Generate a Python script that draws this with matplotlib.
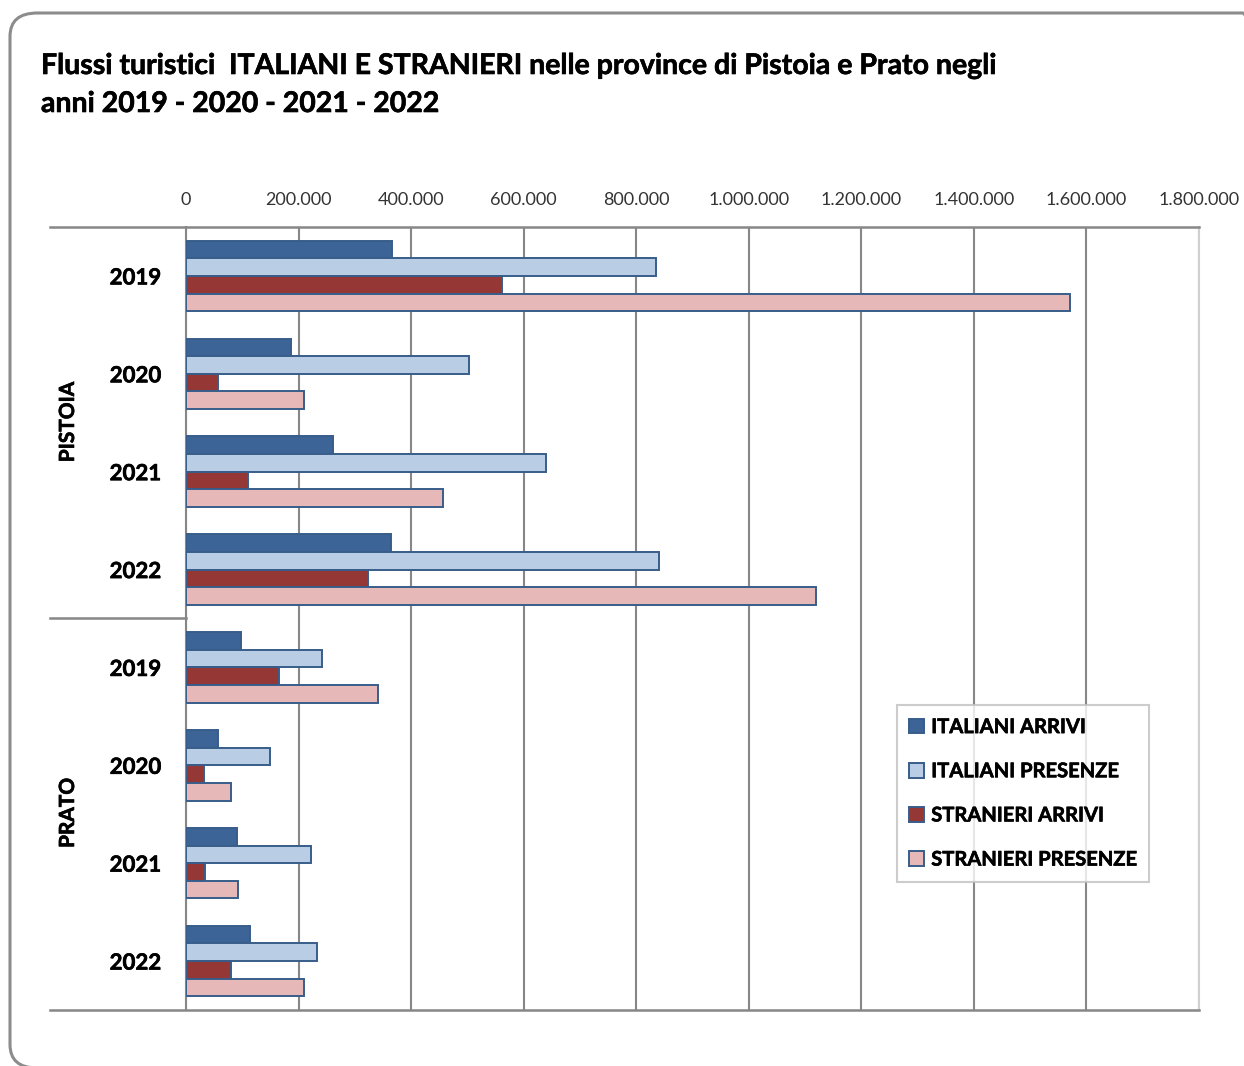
import matplotlib.pyplot as plt
import numpy as np
from matplotlib.patches import FancyBboxPatch
from matplotlib.lines import Line2D
from matplotlib.ticker import FuncFormatter
import matplotlib.patheffects as pe

plt.rcParams['font.family'] = ['Lato', 'DejaVu Sans']

anni = ['2019', '2020', '2021', '2022']
province = ['PISTOIA', 'PRATO']
serie = ['ITALIANI ARRIVI', 'ITALIANI PRESENZE', 'STRANIERI ARRIVI', 'STRANIERI PRESENZE']

# valori per provincia, anni 2019-2022 (Pistoia poi Prato)
italiani_arrivi = [366000, 187000, 262000, 364000, 97000, 56000, 90000, 114000]
italiani_presenze = [835000, 503000, 639000, 841000, 241000, 150000, 223000, 232000]
stranieri_arrivi = [561000, 57000, 110000, 324000, 165000, 32000, 34000, 80000]
stranieri_presenze = [1571000, 210000, 456000, 1120000, 342000, 80000, 93000, 209000]

colori = ['#3C6496', '#B9CDE5', '#953735', '#E6B9B8']
bordo = '#385D8A'
grigio = '#878787'

# rende il grassetto un po' più marcato
spesso = [pe.withStroke(linewidth=0.45, foreground='black')]

W, H = 1244, 1066
fig = plt.figure(figsize=(W / 100, H / 100), dpi=100)

def fx(px):
    return px / W

def fy(py):
    return 1 - py / H

# cornice arrotondata del grafico
cornice = FancyBboxPatch((fx(10), fy(1068)), fx(1270) - fx(10), fy(13) - fy(1068),
                         boxstyle='round,pad=0,rounding_size=0.022',
                         transform=fig.transFigure, facecolor='none',
                         edgecolor='#8C8C8C', linewidth=2.2, clip_on=False)
fig.patches.append(cornice)

ax = fig.add_axes([fx(186), fy(1010), fx(1199) - fx(186), fy(227) - fy(1010)])

dati = [italiani_arrivi, italiani_presenze, stranieri_arrivi, stranieri_presenze]
y = np.arange(len(anni) * len(province))
h = 0.18
for i, (vals, col, nome) in enumerate(zip(dati, colori, serie)):
    ax.barh(y + (i - 1.5) * h, vals, height=h, color=col, edgecolor=bordo,
            linewidth=1.4, label=nome, zorder=3)

ax.set_xlim(0, 1800000)
ax.set_ylim(len(y) - 0.5, -0.5)
ax.set_xticks(np.arange(0, 1800001, 200000))
ax.xaxis.set_major_formatter(FuncFormatter(lambda v, p: f'{int(v):,}'.replace(',', '.')))
ax.xaxis.tick_top()
ax.tick_params(axis='x', length=0, pad=14, labelsize=13, labelcolor='#333333')
ax.grid(axis='x', color=grigio, linewidth=1.5, zorder=0)

ax.set_yticks(y)
ax.set_yticklabels(anni * len(province), fontsize=16, fontweight='bold')
for t in ax.get_yticklabels():
    t.set_path_effects(spesso)
ax.tick_params(axis='y', length=0, pad=18)

for s in ['top', 'bottom']:
    ax.spines[s].set_visible(False)
ax.spines['left'].set_color(grigio)
ax.spines['left'].set_linewidth(1.5)
ax.spines['right'].set_color('#D0D0D0')
ax.spines['right'].set_linewidth(1.5)

# linee di separazione delle categorie
for yy in [227, 1010]:
    fig.add_artist(Line2D([fx(50), fx(1199)], [fy(yy), fy(yy)], color=grigio, lw=1.8))
fig.add_artist(Line2D([fx(50), fx(186)], [fy(618), fy(618)], color=grigio, lw=1.8))

for nome, yc in zip(province, [422, 813]):
    fig.text(fx(68), fy(yc), nome, rotation=90, ha='center', va='center',
             fontsize=15, fontweight='bold', path_effects=spesso)

titolo = ['Flussi turistici  ITALIANI E STRANIERI nelle province di Pistoia e Prato negli',
          'anni 2019 - 2020 - 2021 - 2022']
for riga, yc in zip(titolo, [66, 104]):
    fig.text(fx(41), fy(yc), riga, ha='left', va='center', fontsize=20.5,
             fontweight='bold', path_effects=spesso)

leg = ax.legend(loc='upper left', bbox_to_anchor=((897 - 186) / 1013, 1 - (705 - 227) / 783),
                borderaxespad=0, frameon=True, fancybox=False, edgecolor='#C0C0C0',
                prop={'weight': 'bold', 'size': 14.5}, handlelength=0.75, handleheight=0.75,
                handletextpad=0.35, labelspacing=1.2, borderpad=0.6)
leg.get_frame().set_linewidth(1.5)
for t in leg.get_texts():
    t.set_path_effects(spesso)

fig.savefig('out.png', dpi=100)
